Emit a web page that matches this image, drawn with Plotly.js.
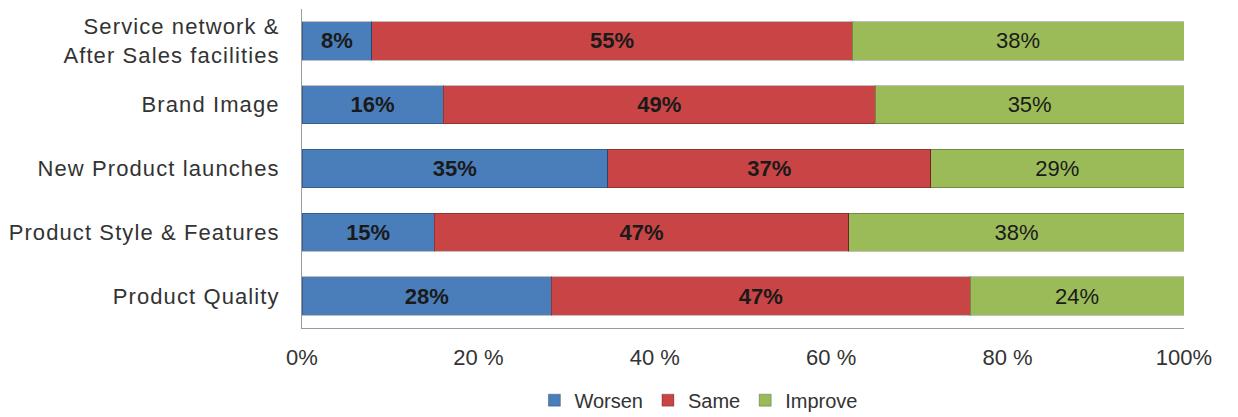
<!DOCTYPE html>
<html>
<head>
<meta charset="utf-8">
<script src="https://cdn.plot.ly/plotly-3.0.1.min.js"></script>
<style>
html,body{margin:0;padding:0;background:#fff;}
#chart{width:1238px;height:417px;}
#chart .ytick text{letter-spacing:1.1px;}
</style>
</head>
<body>
<div id="chart"></div>
<script>
const categories = ["Product Quality", "Product Style & Features", "New Product launches", "Brand Image", "Service network &<br>After Sales facilities"];
const worsen = [28, 15, 35, 16, 8];
const same = [47, 47, 37, 49, 55];
const improve = [24, 38, 29, 35, 38];
const tickVals = [0, 20, 40, 60, 80, 100];
const tickText = ["0%", "20 %", "40 %", "60 %", "80 %", "100%"];

function series(name, vals, color, bold) {
  return {
    type: 'bar', orientation: 'h', name: name,
    y: categories, x: vals,
    text: vals.map(v => bold ? '<b>' + v + '%</b>' : v + '%'),
    textposition: 'inside', insidetextanchor: 'middle',
    textfont: {family: 'Liberation Sans, Arial, sans-serif', size: 22, color: '#1a1a1a'},
    marker: {color: color, line: {color: 'rgba(0,0,0,0.25)', width: 1}},
    hoverinfo: 'none', width: 0.6
  };
}

const data = [
  series('Worsen', worsen, '#4a7ebb', true),
  series('Same', same, '#c94545', true),
  series('Improve', improve, '#9bbb59', false)
];

const layout = {
  barmode: 'stack', barnorm: 'percent',
  width: 1238, height: 417,
  margin: {l: 302, r: 54, t: 9, b: 89, autoexpand: false},
  paper_bgcolor: '#fff', plot_bgcolor: '#fff',
  font: {family: 'Liberation Sans, Arial, sans-serif', size: 22, color: '#333'},
  showlegend: true,
  legend: {orientation: 'h', x: 0.45, xanchor: 'center', y: -0.165, yanchor: 'top',
           font: {size: 20, color: '#333'}, itemwidth: 30, traceorder: 'normal'},
  xaxis: {range: [0, 100], tickvals: tickVals, ticktext: tickText, showgrid: false, zeroline: false,
          showline: true, linecolor: '#9a9a9a', linewidth: 1, ticks: '', ticklabelstandoff: 10,
          tickfont: {size: 22, color: '#333'}, fixedrange: true},
  yaxis: {showgrid: false, zeroline: false, showline: true, linecolor: '#9a9a9a', linewidth: 1,
          ticks: '', ticklabelstandoff: 17, tickfont: {size: 22, color: '#333'}, fixedrange: true}
};

Plotly.newPlot('chart', data, layout, {staticPlot: true, displayModeBar: false});
</script>
</body>
</html>
